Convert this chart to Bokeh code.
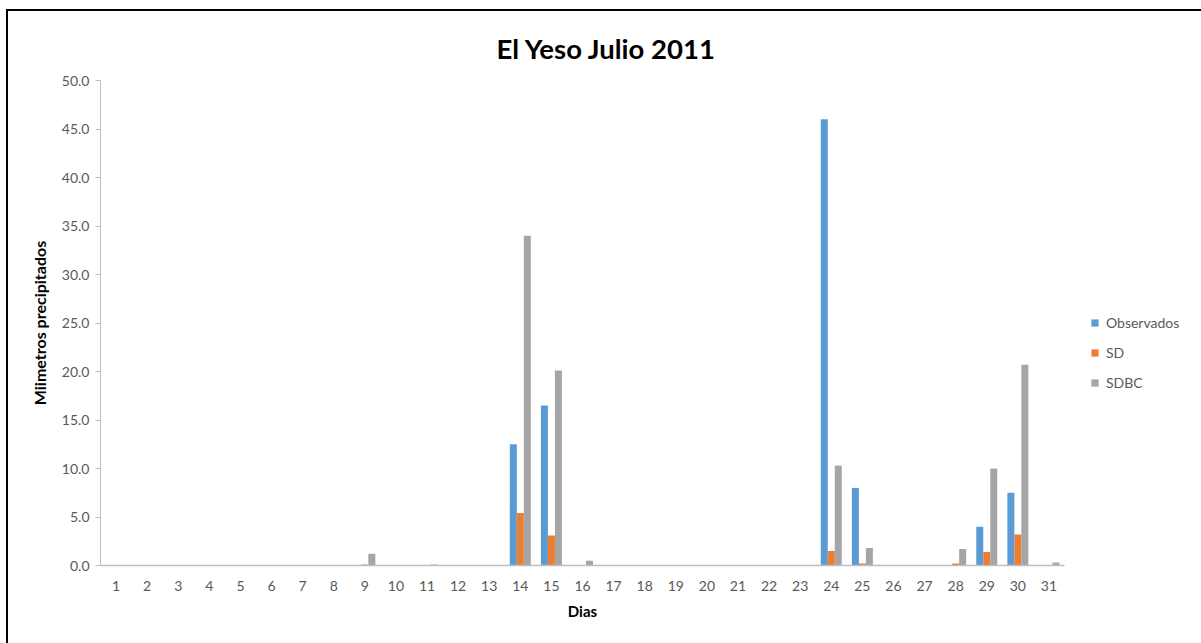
from bokeh.plotting import figure
from bokeh.models import ColumnDataSource, Range1d, FixedTicker, Legend, LegendItem, NumeralTickFormatter
from bokeh.transform import dodge
from bokeh.embed import file_html
from bokeh.resources import INLINE

days = [1, 2, 3, 4, 5, 6, 7, 8, 9, 10, 11, 12, 13, 14, 15, 16, 17, 18, 19, 20,
        21, 22, 23, 24, 25, 26, 27, 28, 29, 30, 31]
observados = [0, 0, 0, 0, 0, 0, 0, 0, 0, 0, 0, 0, 0, 12.5, 16.5, 0, 0, 0, 0, 0,
              0, 0, 0, 46.0, 8.0, 0, 0, 0, 4.0, 7.5, 0]
sd = [0, 0, 0, 0, 0, 0, 0, 0, 0.1, 0, 0, 0, 0, 5.4, 3.1, 0, 0, 0, 0, 0,
      0, 0, 0, 1.5, 0.2, 0, 0, 0.2, 1.4, 3.2, 0]
sdbc = [0, 0, 0, 0, 0, 0, 0, 0, 1.2, 0, 0.1, 0, 0, 34.0, 20.1, 0.5, 0, 0, 0, 0,
        0, 0, 0, 10.3, 1.8, 0, 0, 1.7, 10.0, 20.7, 0.3]
series_names = ["Observados", "SD", "SDBC"]
colors = ["#5B9BD5", "#ED7D31", "#A5A5A5"]
y_ticks = [0, 5, 10, 15, 20, 25, 30, 35, 40, 45, 50]

FONT = "Lato"
TXT = "#595959"

src = ColumnDataSource(dict(day=days, obs=observados, sd=sd, sdbc=sdbc))

p = figure(frame_width=964, frame_height=485, output_backend="svg", toolbar_location=None,
           x_range=Range1d(0.5, 31.5), y_range=Range1d(0, 50),
           min_border_left=92, min_border_right=20, min_border_top=69, min_border_bottom=78)
p.styles = {"border-left": "2px solid black", "border-top": "2px solid black",
            "margin-left": "6px", "margin-top": "9px"}

w = 0.225
cols = ["obs", "sd", "sdbc"]
offs = [-w, 0, w]
renderers = []
for c, o, col in zip(cols, offs, colors):
    r = p.vbar(x=dodge("day", o, range=p.x_range), top=c, width=w, source=src,
               fill_color=col, line_color=None)
    renderers.append(r)

p.title.text = "El Yeso Julio 2011"
p.title.align = "left"
p.title.offset = 396
p.title.standoff = 31
p.title.text_font = FONT
p.title.text_font_size = "27.5px"
p.title.text_font_style = "bold"
p.title.text_color = "#000000"

p.xgrid.visible = False
p.ygrid.visible = False
p.outline_line_color = None

p.xaxis.ticker = FixedTicker(ticks=days)
p.xaxis.major_tick_line_color = None
p.xaxis.minor_tick_line_color = None
p.xaxis.axis_line_color = "#BFBFBF"
p.xaxis.axis_line_width = 1.5
p.xaxis.major_label_standoff = 9
p.xaxis.axis_label = "Dias"

p.yaxis.ticker = FixedTicker(ticks=y_ticks)
p.yaxis.formatter = NumeralTickFormatter(format="0.0")
p.yaxis.minor_tick_line_color = None
p.yaxis.major_tick_line_color = "#BFBFBF"
p.yaxis.major_tick_out = 5
p.yaxis.major_tick_in = 0
p.yaxis.axis_line_color = "#BFBFBF"
p.yaxis.major_label_standoff = 6
p.yaxis.axis_label = "Miimetros precipitados"

for ax in (p.xaxis[0], p.yaxis[0]):
    ax.major_label_text_font = FONT
    ax.major_label_text_font_size = "14px"
    ax.major_label_text_color = TXT
    ax.axis_label_text_font = FONT
    ax.axis_label_text_font_style = "bold"
    ax.axis_label_text_color = "#000000"
p.xaxis.axis_label_text_font_size = "15px"
p.yaxis.axis_label_text_font_size = "16px"
p.xaxis.axis_label_standoff = 8
p.yaxis.axis_label_standoff = 10

legend = Legend(items=[LegendItem(label=n, renderers=[r]) for n, r in zip(series_names, renderers)],
                location="left")
legend.border_line_color = None
legend.background_fill_alpha = 0
legend.margin = 26
legend.padding = 0
legend.title = " "
legend.title_text_font_size = "1px"
legend.title_standoff = 59
legend.glyph_width = 9
legend.glyph_height = 9
legend.label_height = 20
legend.spacing = 10
legend.label_text_font = FONT
legend.label_text_font_size = "14px"
legend.label_text_color = TXT
legend.label_standoff = 7
p.add_layout(legend, "right")

open("out.html", "w").write(file_html(p, INLINE))
